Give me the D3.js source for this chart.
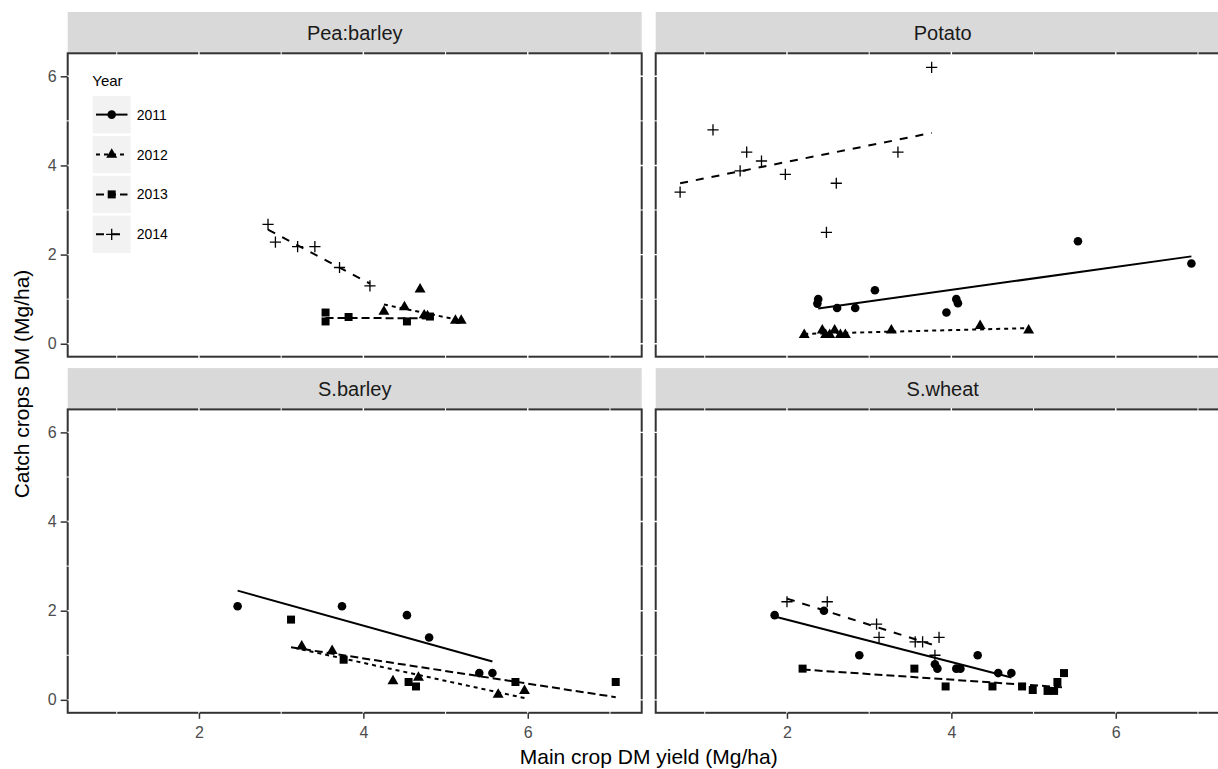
<!DOCTYPE html>
<html><head><meta charset="utf-8">
<script src="https://cdn.jsdelivr.net/npm/d3@7/dist/d3.min.js"></script>
<style>body{margin:0;background:#fff;} svg{display:block;font-family:"Liberation Sans",Arial,sans-serif;}</style>
</head><body>
<svg id="c" width="1218" height="769"></svg>
<script>
// ---- data ----
const panelNames = ["Pea:barley", "Potato", "S.barley", "S.wheat"];
const years = ["2011", "2012", "2013", "2014"];
const xTicks = [2, 4, 6];
const yTicks = [0, 2, 4, 6];
const xGrid = [1, 2, 3, 4, 5, 6, 7];
const yGrid = [0, 1, 2, 3, 4, 5, 6];

// points: [year, main crop DM yield, catch crop DM]
const peaBarleyPts = [
  ["2012",4.25,0.72],["2012",4.50,0.82],["2012",4.69,1.22],["2012",4.74,0.64],["2012",4.78,0.62],["2012",5.12,0.52],["2012",5.19,0.52],
  ["2013",3.54,0.70],["2013",3.54,0.50],["2013",3.82,0.60],["2013",4.53,0.50],["2013",4.81,0.61],
  ["2014",2.84,2.68],["2014",2.93,2.28],["2014",3.20,2.18],["2014",3.41,2.18],["2014",3.71,1.71],["2014",4.08,1.30]
];
const potatoPts = [
  ["2011",2.38,1.00],["2011",2.37,0.90],["2011",2.61,0.80],["2011",2.83,0.80],["2011",3.07,1.20],["2011",3.94,0.70],["2011",4.06,1.00],["2011",4.08,0.91],["2011",5.54,2.30],["2011",6.92,1.80],
  ["2012",2.21,0.20],["2012",2.43,0.30],["2012",2.47,0.20],["2012",2.52,0.20],["2012",2.58,0.30],["2012",2.65,0.20],["2012",2.71,0.20],["2012",3.27,0.30],["2012",4.35,0.40],["2012",4.94,0.30],
  ["2014",0.70,3.40],["2014",1.10,4.80],["2014",1.43,3.88],["2014",1.51,4.30],["2014",1.69,4.10],["2014",1.98,3.80],["2014",2.48,2.50],["2014",2.60,3.60],["2014",3.35,4.30],["2014",3.76,6.20]
];
const sBarleyPts = [
  ["2011",2.47,2.10],["2011",3.74,2.10],["2011",4.53,1.90],["2011",4.80,1.40],["2011",5.41,0.60],["2011",5.57,0.60],
  ["2012",3.25,1.20],["2012",3.62,1.10],["2012",4.36,0.42],["2012",4.67,0.50],["2012",5.64,0.12],["2012",5.96,0.20],
  ["2013",3.12,1.80],["2013",3.76,0.90],["2013",4.55,0.40],["2013",4.64,0.30],["2013",5.85,0.40],["2013",7.07,0.40]
];
const sWheatPts = [
  ["2011",1.85,1.90],["2011",2.45,2.00],["2011",2.88,1.00],["2011",3.80,0.80],["2011",3.83,0.70],["2011",4.06,0.70],["2011",4.11,0.70],["2011",4.32,1.00],["2011",4.57,0.60],["2011",4.73,0.60],
  ["2013",2.19,0.70],["2013",3.55,0.70],["2013",3.93,0.30],["2013",4.50,0.30],["2013",4.86,0.30],["2013",4.99,0.22],["2013",5.17,0.20],["2013",5.25,0.20],["2013",5.29,0.40],["2013",5.37,0.60],
  ["2014",2.00,2.20],["2014",2.49,2.20],["2014",3.09,1.70],["2014",3.12,1.40],["2014",3.56,1.30],["2014",3.65,1.30],["2014",3.85,1.40],["2014",3.80,1.00]
];

// fitted lines: [year, x1, y1, x2, y2]
const peaBarleyFits = [["2012",4.25,0.88,5.19,0.52],["2013",3.54,0.58,4.81,0.57],["2014",2.84,2.56,4.08,1.35]];
const potatoFits = [["2011",2.38,0.79,6.92,1.96],["2012",2.21,0.22,4.94,0.35],["2014",0.70,3.60,3.76,4.73]];
const sBarleyFits = [["2011",2.47,2.45,5.57,0.86],["2012",3.25,1.13,5.96,0.04],["2013",3.12,1.18,7.07,0.06]];
const sWheatFits = [["2011",1.85,1.87,4.73,0.50],["2013",2.19,0.68,5.37,0.28],["2014",2.00,2.27,3.85,1.19]];

const panelPts = [peaBarleyPts, potatoPts, sBarleyPts, sWheatPts];
const panelFits = [peaBarleyFits, potatoFits, sBarleyFits, sWheatFits];

// ---- styling ----
const dashes = {"2011": null, "2012": "4,4", "2013": "8,4", "2014": "8,8"};
const ink = "#000";
const svg = d3.select("#c");

const panelW = 574, panelH = 303.4;
const colX = [67.7, 655.7];
const rowY = [53.3, 409.4];
const stripH = 41.3;

const x = d3.scaleLinear().domain([0.403, 7.386]).range([0, panelW]);
const y = d3.scaleLinear().domain([-0.291, 6.516]).range([panelH, 0]);

function drawShape(g, year, cx, cy) {
  if (year === "2014") {
    g.append("path").attr("d", `M${cx-5.6},${cy}H${cx+5.6}M${cx},${cy-5.6}V${cy+5.6}`)
      .attr("stroke", ink).attr("stroke-width", 1.3).attr("fill", "none");
  } else {
    const type = year === "2011" ? d3.symbolCircle : year === "2012" ? d3.symbolTriangle : d3.symbolSquare;
    const size = year === "2011" ? 58 : year === "2012" ? 52 : 64;
    g.append("path").attr("d", d3.symbol().type(type).size(size)())
      .attr("transform", `translate(${cx},${cy})`).attr("fill", ink);
  }
}

panelNames.forEach((name, i) => {
  const col = i % 2, row = Math.floor(i / 2);
  const g = svg.append("g").attr("transform", `translate(${colX[col]},${rowY[row]})`);
  // strip
  g.append("rect").attr("x", 0).attr("y", -stripH).attr("width", panelW).attr("height", stripH).attr("fill", "#d9d9d9");
  g.append("text").attr("x", panelW / 2).attr("y", -stripH / 2).attr("text-anchor", "middle")
    .attr("dominant-baseline", "central").attr("font-size", 20).attr("fill", "#1a1a1a").text(name);
  // panel bg
  g.append("rect").attr("width", panelW).attr("height", panelH).attr("fill", "#fff");
  // border
  g.append("rect").attr("width", panelW).attr("height", panelH).attr("fill", "none")
    .attr("stroke", "#333").attr("stroke-width", 2);
  // white grid lines (show as gaps in border)
  g.selectAll(".gx").data(xGrid).enter().append("line")
    .attr("x1", d => x(d)).attr("x2", d => x(d)).attr("y1", -1.5).attr("y2", panelH + 1.5)
    .attr("stroke", "#fff").attr("stroke-width", d => d % 2 === 0 ? 1.4 : 1);
  g.selectAll(".gy").data(yGrid).enter().append("line")
    .attr("y1", d => y(d)).attr("y2", d => y(d)).attr("x1", -1.5).attr("x2", panelW + 1.5)
    .attr("stroke", "#fff").attr("stroke-width", d => d % 2 === 0 ? 1.4 : 1);

  // axes
  if (col === 0) {
    const ya = d3.axisLeft(y).tickValues(yTicks).tickSize(7).tickPadding(4).tickFormat(d3.format("d"));
    const ag = g.append("g").call(ya);
    ag.select(".domain").remove();
    ag.selectAll("line").attr("stroke", "#333").attr("stroke-width", 1.5);
    ag.selectAll("text").attr("font-size", 16).attr("fill", "#4d4d4d").attr("font-family", "Liberation Sans, Arial, sans-serif");
  }
  if (row === 1) {
    const xa = d3.axisBottom(x).tickValues(xTicks).tickSize(6).tickPadding(8).tickFormat(d3.format("d"));
    const ag = g.append("g").attr("transform", `translate(0,${panelH})`).call(xa);
    ag.select(".domain").remove();
    ag.selectAll("line").attr("stroke", "#333").attr("stroke-width", 1.5);
    ag.selectAll("text").attr("font-size", 16).attr("fill", "#4d4d4d").attr("font-family", "Liberation Sans, Arial, sans-serif");
  }

  // fitted lines
  g.selectAll(".fit").data(panelFits[i]).enter().append("line")
    .attr("x1", d => x(d[1])).attr("y1", d => y(d[2])).attr("x2", d => x(d[3])).attr("y2", d => y(d[4]))
    .attr("stroke", ink).attr("stroke-width", 2).attr("stroke-dasharray", d => dashes[d[0]]);
  // points
  panelPts[i].forEach(p => drawShape(g, p[0], x(p[1]), y(p[2])));
});

// legend inside first panel
const lg = svg.append("g");
lg.append("text").attr("x", 92.3).attr("y", 86).attr("font-size", 15).attr("fill", "#000").text("Year");
years.forEach((yr, k) => {
  const ky = 96 + k * 39.9;
  lg.append("rect").attr("x", 92.7).attr("y", ky).attr("width", 38).attr("height", 37.3).attr("fill", "#f2f2f2");
  const cy = ky + 18.6;
  lg.append("line").attr("x1", 96).attr("x2", 127.5).attr("y1", cy).attr("y2", cy)
    .attr("stroke", ink).attr("stroke-width", 2).attr("stroke-dasharray", dashes[yr]);
  drawShape(lg, yr, 111.7, cy);
  lg.append("text").attr("x", 136.7).attr("y", cy).attr("dominant-baseline", "central")
    .attr("font-size", 14).attr("fill", "#000").text(yr);
});

// axis titles
svg.append("text").attr("x", 648.7).attr("y", 764).attr("text-anchor", "middle")
  .attr("font-size", 21).attr("fill", "#000").text("Main crop DM yield (Mg/ha)");
svg.append("text").attr("transform", "translate(28.5,384) rotate(-90)").attr("text-anchor", "middle")
  .attr("font-size", 21).attr("fill", "#000").text("Catch crops DM (Mg/ha)");
</script>
</body></html>
